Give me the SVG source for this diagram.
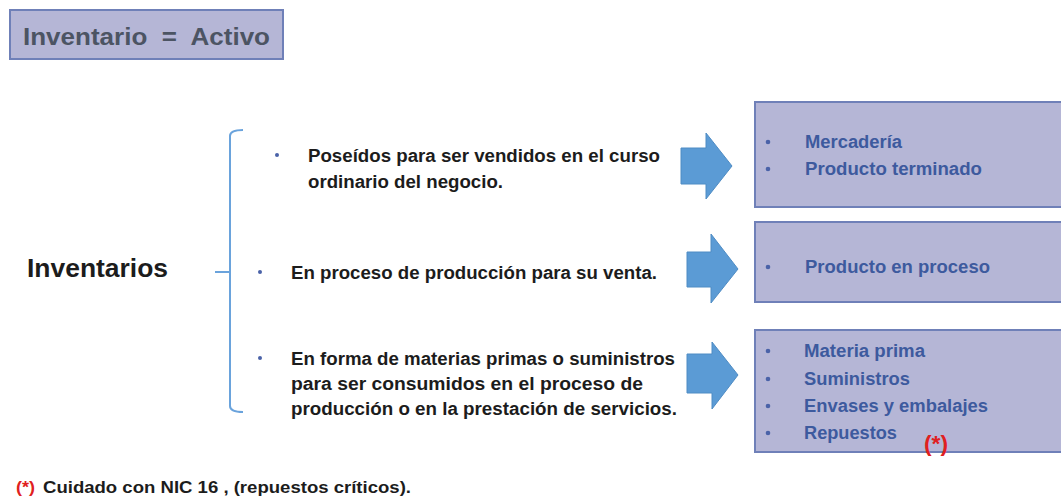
<svg xmlns="http://www.w3.org/2000/svg" width="1061" height="500" viewBox="0 0 1061 500">
<style>
.box{fill:#b5b6d6;stroke:#6f80b8;stroke-width:2}
.arrow{fill:#5b9bd5;stroke:#4f8cc4;stroke-width:1}
.lt{font-family:"Liberation Sans",Arial,sans-serif;font-weight:bold;font-size:18px;fill:#1c1c1c}
.bt{font-family:"Liberation Sans",Arial,sans-serif;font-weight:bold;font-size:18px;fill:#3d5a9e}
.bd{fill:#4a62a8}
.red{font-family:"Liberation Sans",Arial,sans-serif;font-weight:bold;fill:#e02020}
.br{fill:none;stroke:#6aa3dc;stroke-width:2}
</style>
<rect width="1061" height="500" fill="#ffffff"/>
<g id="title">
<rect class="box" x="10" y="10" width="273" height="49"/>
<text x="23" y="45" font-family="Liberation Sans,Arial,sans-serif" font-weight="bold" font-size="24" fill="#4c5463" textLength="247" lengthAdjust="spacingAndGlyphs" xml:space="preserve">Inventario  =  Activo</text>
</g>
<g id="inventarios">
<text x="27" y="277" class="lt" style="font-size:25px" textLength="141" lengthAdjust="spacingAndGlyphs">Inventarios</text>
</g>
<g id="brace">
<path class="br" d="M243,130 Q230,130 230,136 L230,406 Q230,412 243,412 M215,272 L230,272"/>
</g>
<g id="item1">
<circle class="bd" cx="277" cy="155" r="2"/>
<text class="lt" x="308" y="162" textLength="352" lengthAdjust="spacingAndGlyphs">Poseídos para ser vendidos en el curso</text>
<text class="lt" x="308" y="188" textLength="195" lengthAdjust="spacingAndGlyphs">ordinario del negocio.</text>
</g>
<g id="item2">
<circle class="bd" cx="260" cy="272" r="2"/>
<text class="lt" x="291" y="279" textLength="366" lengthAdjust="spacingAndGlyphs">En proceso de producción para su venta.</text>
</g>
<g id="item3">
<circle class="bd" cx="260" cy="358" r="2"/>
<text class="lt" x="291" y="365" textLength="384" lengthAdjust="spacingAndGlyphs">En forma de materias primas o suministros</text>
<text class="lt" x="291" y="390" textLength="352" lengthAdjust="spacingAndGlyphs">para ser consumidos en el proceso de</text>
<text class="lt" x="291" y="415" textLength="386" lengthAdjust="spacingAndGlyphs">producción o en la prestación de servicios.</text>
</g>
<g id="connectors">
<polygon class="arrow" points="681,148 706,148 706,133 732,166 706,199 706,184 681,184"/>
<polygon class="arrow" points="687,252 711,252 711,234 738,269 711,303 711,287 687,287"/>
<polygon class="arrow" points="687,354 712,354 712,342 738,375 712,409 712,393 687,393"/>
</g>
<g id="box1">
<rect class="box" x="755" y="102" width="310" height="105"/>
<circle class="bd" cx="768" cy="142" r="2.3"/>
<circle class="bd" cx="768" cy="169" r="2.3"/>
<text class="bt" x="805" y="148" textLength="97" lengthAdjust="spacingAndGlyphs">Mercadería</text>
<text class="bt" x="805" y="175" textLength="177" lengthAdjust="spacingAndGlyphs">Producto terminado</text>
</g>
<g id="box2">
<rect class="box" x="755" y="222" width="310" height="80"/>
<circle class="bd" cx="768" cy="267" r="2.3"/>
<text class="bt" x="805" y="273" textLength="185" lengthAdjust="spacingAndGlyphs">Producto en proceso</text>
</g>
<g id="box3">
<rect class="box" x="755" y="330" width="310" height="122"/>
<circle class="bd" cx="768" cy="351" r="2.3"/>
<circle class="bd" cx="768" cy="379" r="2.3"/>
<circle class="bd" cx="768" cy="406" r="2.3"/>
<circle class="bd" cx="768" cy="433" r="2.3"/>
<text class="bt" x="804" y="357" textLength="121" lengthAdjust="spacingAndGlyphs">Materia prima</text>
<text class="bt" x="804" y="385" textLength="106" lengthAdjust="spacingAndGlyphs">Suministros</text>
<text class="bt" x="804" y="412" textLength="184" lengthAdjust="spacingAndGlyphs">Envases y embalajes</text>
<text class="bt" x="804" y="439" textLength="93" lengthAdjust="spacingAndGlyphs">Repuestos</text>
<text class="red" x="924" y="451" style="font-size:22px" textLength="24" lengthAdjust="spacingAndGlyphs">(*)</text>
</g>
<g id="note">
<text class="red" x="16" y="493" style="font-size:16px" textLength="19" lengthAdjust="spacingAndGlyphs">(*)</text>
<text class="lt" x="43" y="493" style="font-size:16px" textLength="368" lengthAdjust="spacingAndGlyphs">Cuidado con NIC 16 , (repuestos críticos).</text>
</g>
</svg>
